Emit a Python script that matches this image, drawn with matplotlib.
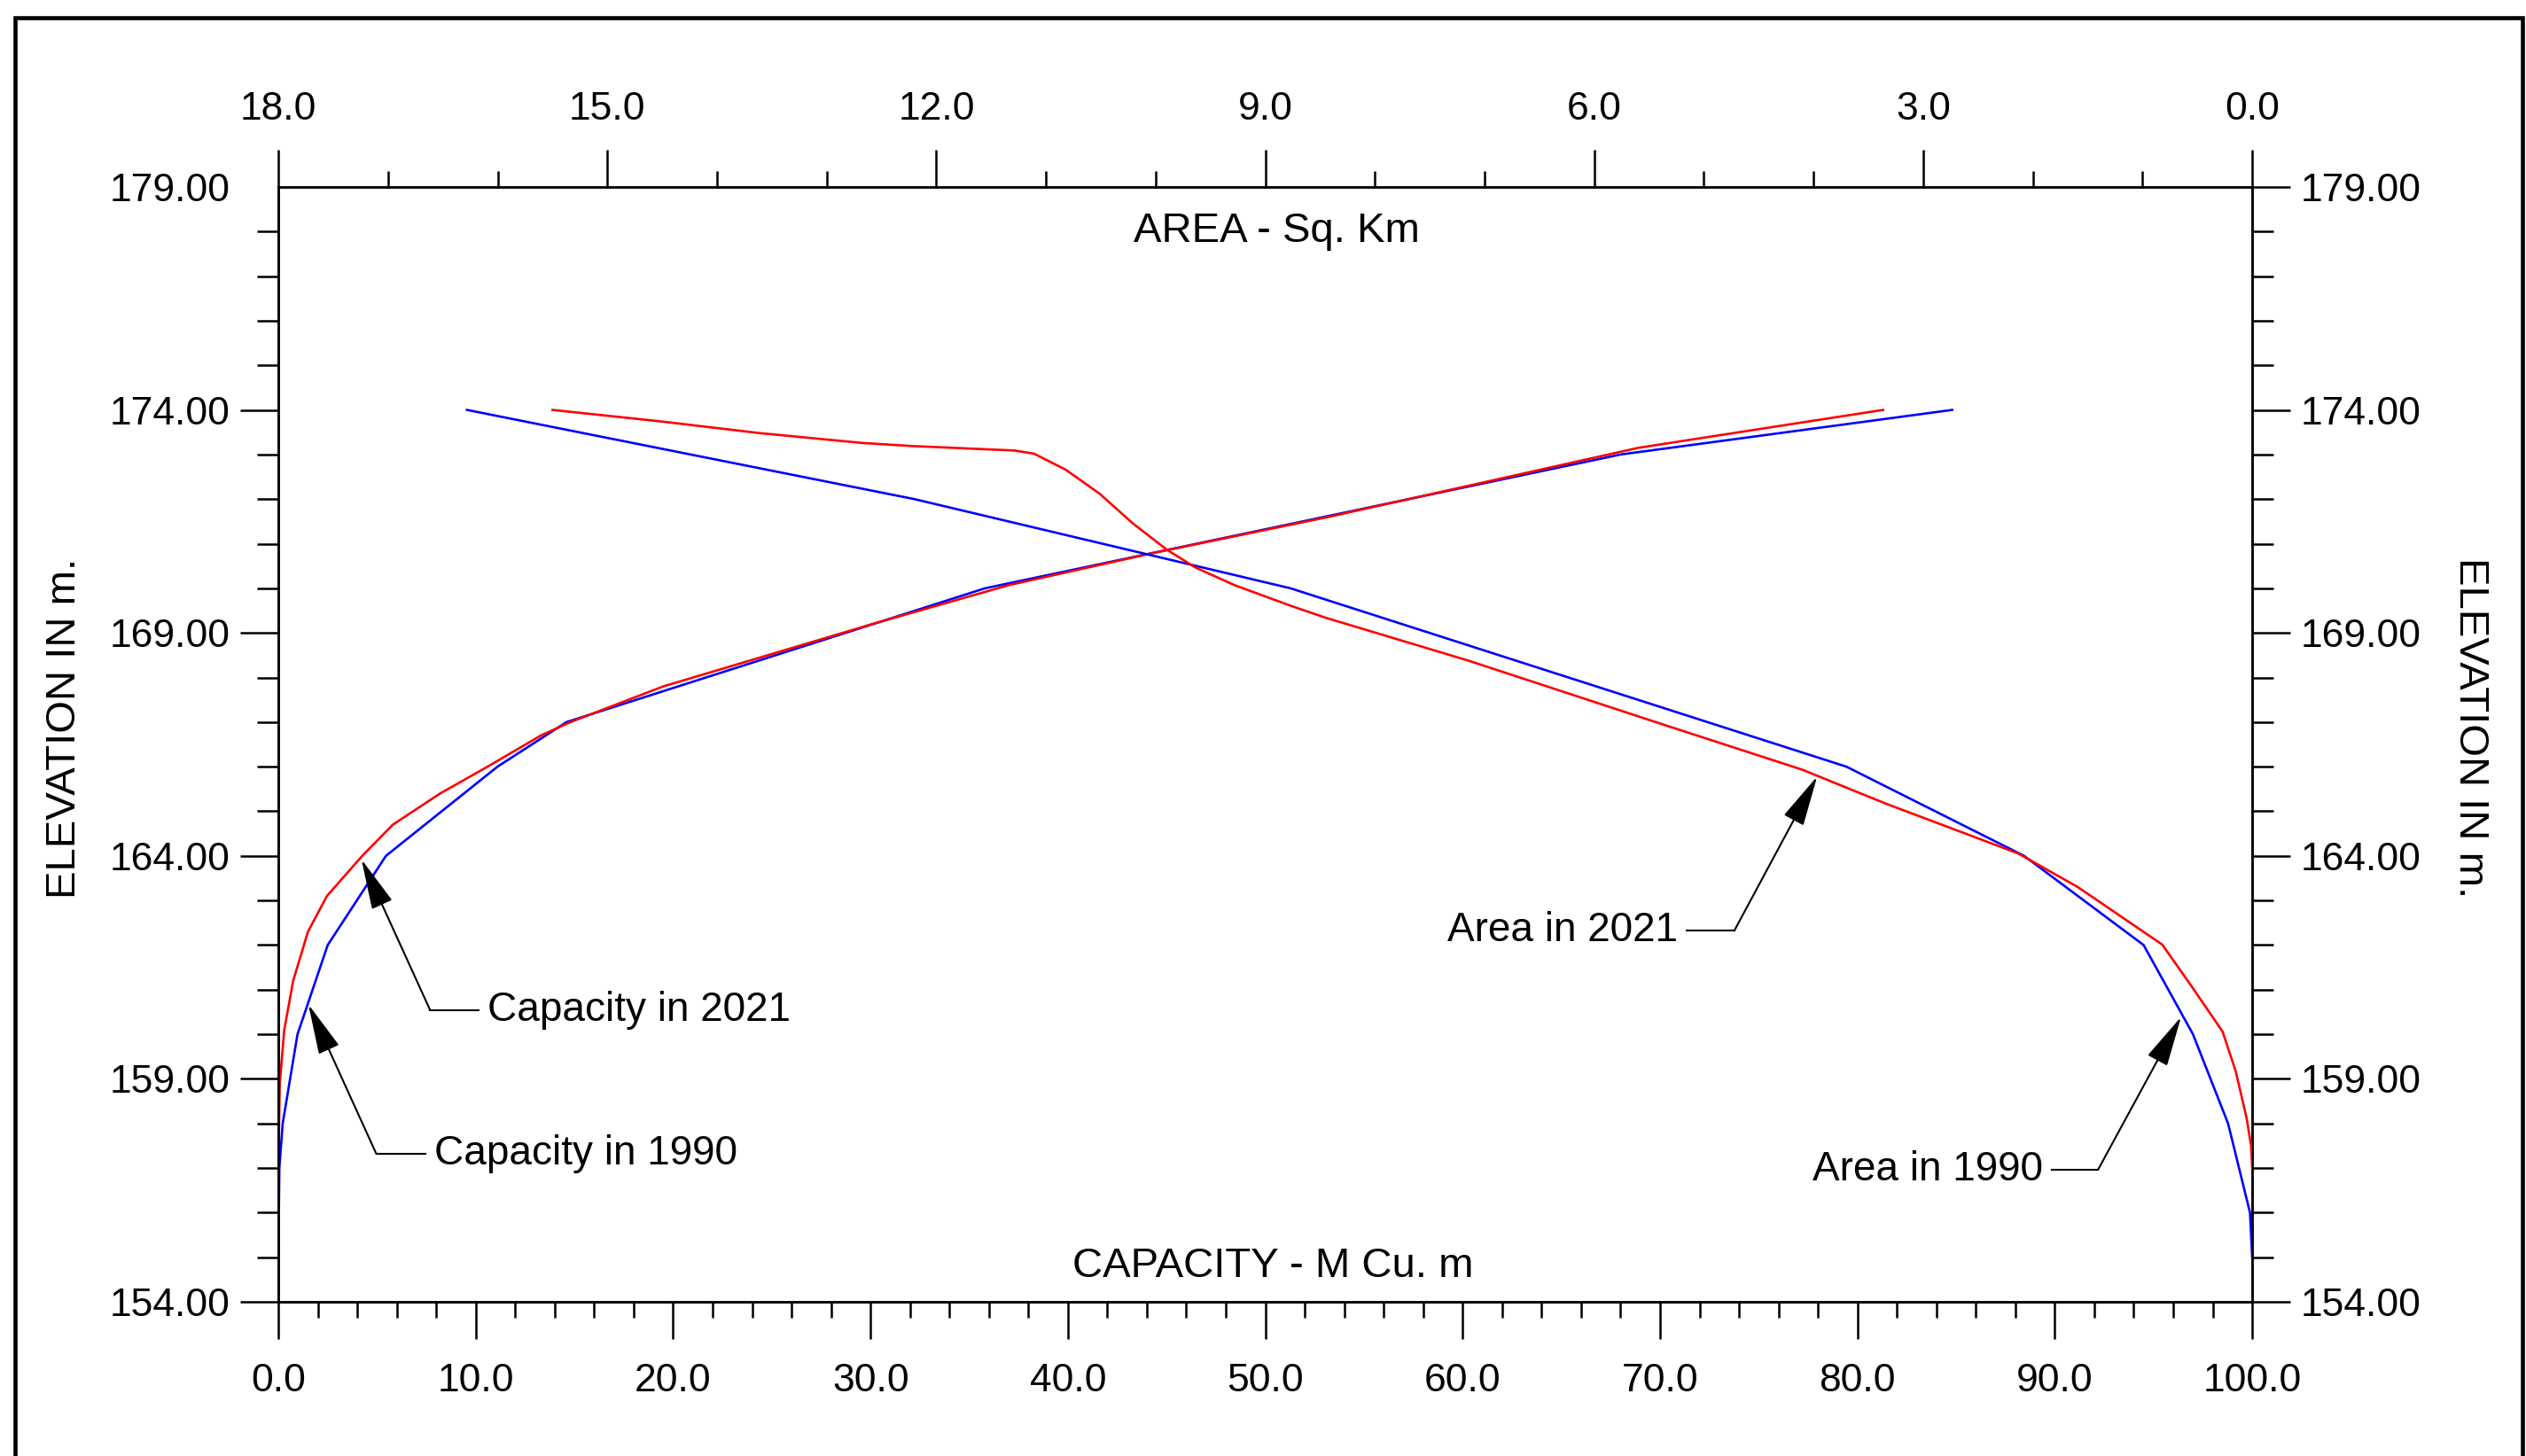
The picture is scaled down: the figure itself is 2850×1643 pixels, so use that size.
import matplotlib
matplotlib.use("Agg")
import matplotlib.pyplot as plt
import numpy as np
from matplotlib.patches import Rectangle

plt.rcParams['font.family'] = ['Liberation Sans Narrow', 'Liberation Sans', 'DejaVu Sans']

# elevation (m) / capacity (M Cu. m) - survey 1990
cap1990_elev = [155.0, 157.0, 158.0, 160.0, 162.0, 164.0, 166.0, 167.0, 170.0, 173.0, 174.0]
cap1990 = [0.0, 0.05, 0.22, 0.97, 2.5, 5.45, 11.1, 14.6, 35.8, 68.0, 84.8]

# elevation / capacity - survey 2021
cap2021_elev = [157.0, 158.9, 160.1, 161.2, 162.3, 163.1, 164.0, 164.7, 165.4, 166.0,
                166.7, 167.0, 167.8, 169.2, 170.07, 170.77, 171.6, 172.3, 173.15, 174.0]
cap2021 = [0.0, 0.07, 0.3, 0.75, 1.5, 2.46, 4.25, 5.8, 8.2, 10.6,
           13.3, 14.8, 19.5, 30.1, 37.0, 44.1, 53.2, 60.3, 68.9, 81.3]

# elevation / area (Sq. Km) - survey 1990
area1990_elev = [155.0, 156.0, 158.0, 160.0, 162.0, 164.0, 166.0, 170.0, 172.0, 174.0]
area1990 = [0.0, 0.02, 0.22, 0.54, 0.99, 2.08, 3.70, 8.77, 12.2, 16.28]

# elevation / area - survey 2021
area2021_elev = [157.0, 157.5, 158.11, 159.17, 160.06, 161.03, 162.01, 162.63, 163.30, 164.05,
                 165.18, 165.93, 166.96, 168.38, 169.34, 169.61, 170.07, 170.47, 170.87, 171.46,
                 172.12, 172.66, 173.02, 173.09, 173.19, 173.26, 173.48, 173.75, 174.0]
area2021 = [0.0, 0.01, 0.05, 0.15, 0.27, 0.54, 0.82, 1.19, 1.59, 2.13,
            3.35, 4.10, 5.39, 7.15, 8.45, 8.77, 9.28, 9.64, 9.90, 10.21,
            10.51, 10.82, 11.11, 11.29, 12.22, 12.68, 13.61, 14.54, 15.5]

elev_ticks = np.arange(154, 180, 5)
cap_ticks = np.arange(0, 101, 10)
area_ticks = np.arange(0, 19, 3)

fig = plt.figure(figsize=(28.5, 16.43), dpi=100)
ax = fig.add_axes([0.1102, 0.1059, 0.8916 - 0.1102, 0.8716 - 0.1059])
ax2 = ax.twiny()

ax.plot(cap1990, cap1990_elev, color='#0000ff', lw=1.9, zorder=3)
ax.plot(cap2021, cap2021_elev, color='#ff0000', lw=1.9, zorder=3)
ax2.plot(area1990, area1990_elev, color='#0000ff', lw=1.9, zorder=3)
ax2.plot(area2021, area2021_elev, color='#ff0000', lw=1.9, zorder=3)

ax.set_xlim(0, 100)
ax.set_ylim(154, 179)
ax2.set_xlim(18, 0)

ax.set_xticks(cap_ticks)
ax.set_xticks(np.arange(0, 101, 2), minor=True)
ax.set_yticks(elev_ticks)
ax.set_yticks(np.arange(154, 180, 1), minor=True)
ax2.set_xticks(area_ticks)
ax2.set_xticks(np.arange(0, 19, 1), minor=True)

ax.set_xticklabels([f"{v:.1f}" for v in cap_ticks])
ax.set_yticklabels([f"{v:.2f}" for v in elev_ticks])
ax2.set_xticklabels([f"{v:.1f}" for v in area_ticks])

ax.tick_params(axis='x', which='major', direction='out', length=30, width=1.8, labelsize=32, pad=20)
ax.tick_params(axis='x', which='minor', direction='out', length=13, width=1.8)
ax.tick_params(axis='y', which='major', direction='out', length=31, width=1.8, labelsize=32, pad=8,
               left=True, right=True, labelleft=True, labelright=True)
ax.tick_params(axis='y', which='minor', direction='out', length=17, width=1.8, left=True, right=True)
ax2.tick_params(axis='x', which='major', direction='out', length=30, width=1.8, labelsize=32, pad=18)
ax2.tick_params(axis='x', which='minor', direction='out', length=13, width=1.8)
ax.yaxis.get_major_ticks()[-1].tick1line.set_visible(False)

for a in (ax, ax2):
    for s in a.spines.values():
        s.set_linewidth(1.8)

lab = dict(family=['Liberation Sans', 'DejaVu Sans'], fontsize=34, color='black')
ax.text(50.6, 178.0, "AREA - Sq. Km", ha='center', va='center', **lab)
ax.text(50.4, 154.8, "CAPACITY - M Cu. m", ha='center', va='center', **lab)
fig.text(0.0256, 0.5, "ELEVATION IN m.", rotation=90, ha='center', va='center', **lab)
fig.text(0.978, 0.5, "ELEVATION IN m.", rotation=-90, ha='center', va='center', **lab)

# leader lines: (label, tip, elbow, end of horizontal, text side)
notes = [
    ("Capacity in 2021", (4.21, 163.92), (7.69, 160.54), 10.13, 'left'),
    ("Capacity in 1990", (1.52, 160.67), (4.96, 157.32), 7.44, 'left'),
    ("Area in 2021", (77.96, 165.78), (73.76, 162.32), 71.35, 'right'),
    ("Area in 1990", (96.4, 160.39), (92.2, 156.97), 89.84, 'right'),
]
ann = dict(family=['Liberation Sans', 'DejaVu Sans'], fontsize=33, color='black')
for text, tip, elbow, hend, side in notes:
    ax.plot([elbow[0], hend], [elbow[1], elbow[1]], color='black', lw=1.5, zorder=4)
    ax.annotate('', xy=tip, xytext=elbow,
                arrowprops=dict(arrowstyle='-|>,head_length=1.0,head_width=0.22',
                                mutation_scale=36, color='black', lw=1.5,
                                shrinkA=0, shrinkB=0), zorder=4)
    if side == 'left':
        ax.text(hend + 0.45, elbow[1], text, ha='left', va='center', **ann)
    else:
        ax.text(hend - 0.45, elbow[1], text, ha='right', va='center', **ann)

fig.add_artist(Rectangle((0.006, -0.02), 0.9925, 1.0078, transform=fig.transFigure,
                         fill=False, lw=3.3, edgecolor='black'))

fig.savefig("out.png", dpi=100, facecolor='white')
